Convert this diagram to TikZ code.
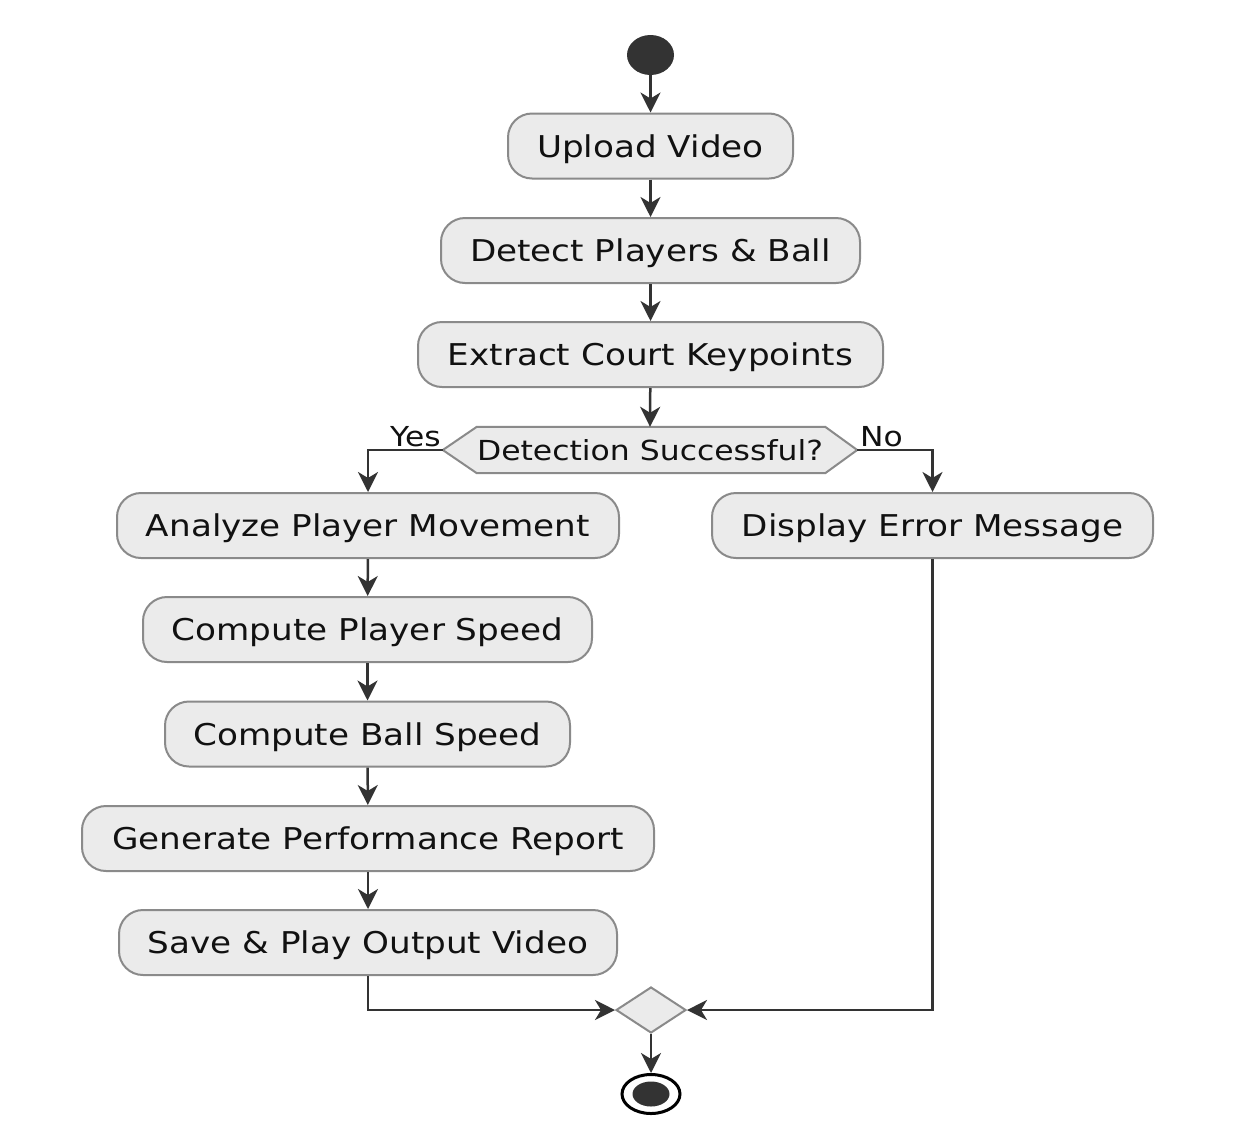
\documentclass[tikz,border=0pt]{standalone}
\usepackage{fontspec}
\setmainfont{DejaVu Sans}[FakeStretch=1.14]
\usetikzlibrary{arrows.meta,shapes.geometric}
\definecolor{boxfill}{HTML}{EBEBEB}
\definecolor{boxline}{HTML}{8A8A8A}
\definecolor{arrowc}{HTML}{333333}
\definecolor{txt}{HTML}{111111}
\tikzset{
  act/.style={draw=boxline, fill=boxfill, line width=2pt, rounded corners=24pt,
    minimum height=65pt, inner sep=0pt, text=txt, text height=30pt, text depth=8pt,
    font=\fontsize{30}{36}\selectfont},
  flow/.style={draw=arrowc, line width=2.5pt,
    -{Stealth[length=20pt, width=20pt, inset=6pt]}},
  lbl/.style={inner sep=0pt, text=txt, font=\fontsize{27.5}{32}\selectfont},
}
\begin{document}
\begin{tikzpicture}[x=1pt,y=-1pt]
\useasboundingbox (0,0) rectangle (1233,1122);
\fill[white] (0,0) rectangle (1233,1122);

\node[ellipse, fill=arrowc, minimum width=47pt, minimum height=40pt, inner sep=0pt] (start) at (650.5,55) {};

\node[act, minimum width=285pt] (up) at (650.5,146) {Upload Video};
\node[act, minimum width=419pt] (det) at (650.5,250.5) {Detect Players \& Ball};
\node[act, minimum width=465pt] (ext) at (650.5,354.5) {Extract Court Keypoints};

\node[inner sep=0pt, minimum width=414pt, minimum height=46pt] (dec) at (650,450) {};
\draw[draw=boxline, fill=boxfill, line width=2pt]
  (dec.west) -- ([xshift=34pt]dec.north west) -- ([xshift=-32pt]dec.north east)
  -- (dec.east) -- ([xshift=-32pt]dec.south east) -- ([xshift=34pt]dec.south west) -- cycle;
\node[inner sep=0pt, text=txt, text height=28pt, text depth=7pt,
      font=\fontsize{27.6}{33}\selectfont] (dectext) at (dec.center) {Detection Successful?};

\node[act, minimum width=502pt] (an) at (368,525.5) {Analyze Player Movement};
\node[act, minimum width=441pt] (err) at (932.5,525.5) {Display Error Message};
\node[act, minimum width=449pt] (cps) at (367.5,629.5) {Compute Player Speed};
\node[act, minimum width=405pt] (cbs) at (367.5,734) {Compute Ball Speed};
\node[act, minimum width=572pt] (gen) at (368,838.5) {Generate Performance Report};
\node[act, minimum width=498pt] (save) at (368,942.5) {Save \& Play Output Video};

\node[diamond, draw=boxline, fill=boxfill, line width=2pt, aspect=1.52,
      minimum width=70pt, minimum height=46pt, inner sep=0pt] (merge) at (651,1010) {};

\node[ellipse, draw=black, line width=3pt, fill=white, minimum width=58pt,
      minimum height=39pt, inner sep=0pt] (end) at (651,1094) {};
\node[ellipse, fill=arrowc, minimum width=37pt, minimum height=25pt, inner sep=0pt] (endin) at (end.center) {};

\node[lbl, anchor=south east] (yes) at (441,447) {Yes};
\node[lbl, anchor=south west] (no) at (860,447) {No};

\draw[flow] (start) -- (up);
\draw[flow] (up) -- (det);
\draw[flow] (det) -- (ext);
\draw[flow] (ext) -- (dec.north);
\draw[flow] (dec.west) -| (an.north);
\draw[flow] (dec.east) -| (err.north);
\draw[flow] (an) -- (cps);
\draw[flow] (cps) -- (cbs);
\draw[flow] (cbs) -- (gen);
\draw[flow] (gen) -- (save);
\draw[flow] (save.south) |- (merge.west);
\draw[flow] (err.south) |- (merge.east);
\draw[flow] (merge.south) -- (end.north);
\end{tikzpicture}
\end{document}
